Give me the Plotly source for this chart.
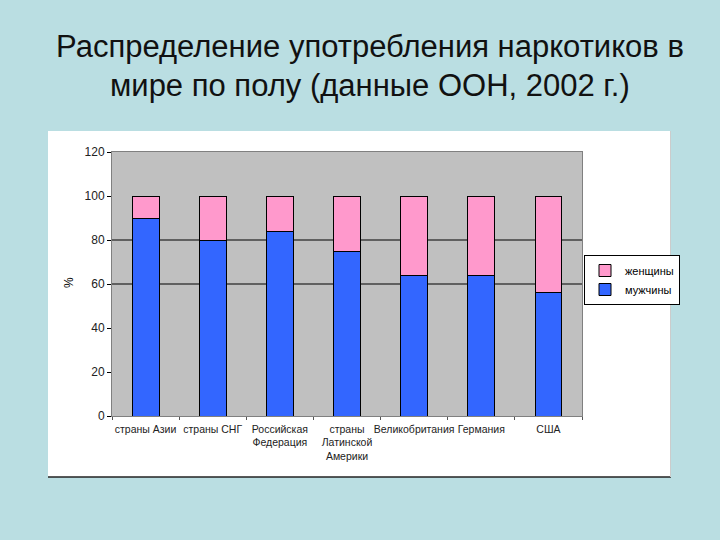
import plotly.graph_objects as go

categories = ["страны Азии", "страны СНГ", "Российская<br>Федерация",
              "страны<br>Латинской<br>Америки", "Великобритания", "Германия", "США"]
men = [90, 80, 84, 75, 64, 64, 56]
women = [10, 20, 16, 25, 36, 36, 44]
series_names = ["мужчины", "женщины"]
y_ticks = [0, 20, 40, 60, 80, 100, 120]
grid_levels = [60, 80]
title_lines = ["Распределение употребления наркотиков в",
               "мире по полу (данные ООН, 2002 г.)"]

FONT = "Liberation Sans, Arial, sans-serif"
BG = "#BADEE2"

fig = go.Figure()
fig.add_trace(go.Bar(x=categories, y=men, name=series_names[0],
                     marker=dict(color="#3366FF", line=dict(color="black", width=1))))
fig.add_trace(go.Bar(x=categories, y=women, name=series_names[1],
                     marker=dict(color="#FF99CC", line=dict(color="black", width=1))))

W, H = 720, 540
L, R, T, B = 112, 138, 152, 124
pw, ph = W - L - R, H - T - B

def px_x(x):
    return (x - L) / pw

def px_y(y):
    return (H - B - y) / ph

shapes = [
    dict(type="rect", xref="paper", yref="paper", layer="below",
         x0=px_x(48), x1=px_x(670), y0=px_y(477), y1=px_y(131),
         fillcolor="white", line=dict(width=0)),
    dict(type="line", xref="paper", yref="paper", layer="below",
         x0=px_x(48), x1=px_x(671), y0=px_y(477), y1=px_y(477),
         line=dict(color="#222222", width=1.5)),
    dict(type="line", xref="paper", yref="paper", layer="below",
         x0=px_x(670.5), x1=px_x(670.5), y0=px_y(477), y1=px_y(131),
         line=dict(color="#CCCCCC", width=1)),
    dict(type="rect", xref="paper", yref="paper", layer="below",
         x0=0, x1=1, y0=0, y1=1, fillcolor="#C0C0C0", line=dict(width=0)),
]
for g in grid_levels:
    shapes.append(dict(type="line", xref="x domain", yref="y", layer="below",
                       x0=0, x1=1, y0=g, y1=g, line=dict(color="black", width=1)))

annotations = [
    dict(text=title_lines[0], xref="paper", yref="paper", x=px_x(370), y=px_y(46.5),
         xanchor="center", yanchor="middle", showarrow=False,
         font=dict(family=FONT, size=31, color="#111111")),
    dict(text=title_lines[1], xref="paper", yref="paper", x=px_x(370), y=px_y(85.5),
         xanchor="center", yanchor="middle", showarrow=False,
         font=dict(family=FONT, size=31, color="#111111")),
    dict(text="%", xref="paper", yref="paper", x=px_x(69), y=px_y(283),
         xanchor="center", yanchor="middle", showarrow=False, textangle=-90,
         font=dict(family=FONT, size=12, color="black")),
]

fig.update_layout(
    width=W, height=H,
    margin=dict(l=L, r=R, t=T, b=B, pad=0),
    barmode="stack", bargap=0.6,
    paper_bgcolor=BG, plot_bgcolor="rgba(0,0,0,0)",
    shapes=shapes, annotations=annotations,
    font=dict(family=FONT, size=11, color="black"),
    showlegend=True,
    legend=dict(x=px_x(584), y=px_y(255), xanchor="left", yanchor="top",
                traceorder="reversed", bgcolor="white", bordercolor="black",
                borderwidth=1, font=dict(size=11, family=FONT),
                tracegroupgap=0, itemwidth=30),
)
fig.update_xaxes(type="category", tickangle=0, showline=True, linecolor="#808080",
                 mirror=True, ticks="outside", tickson="boundaries", ticklen=3,
                 tickcolor="#555555", showgrid=False, ticklabelstandoff=3,
                 tickfont=dict(size=10.5, family=FONT, color="#222222"))
fig.update_yaxes(range=[0, 120], tickvals=y_ticks, showline=True, linecolor="#808080",
                 mirror=True, ticks="outside", ticklen=4, tickcolor="black",
                 showgrid=False, zeroline=False,
                 tickfont=dict(size=12, family=FONT, color="#222222"))

fig.write_html("out.html", config={"displayModeBar": False},
               post_script="document.body.style.margin='0';")
